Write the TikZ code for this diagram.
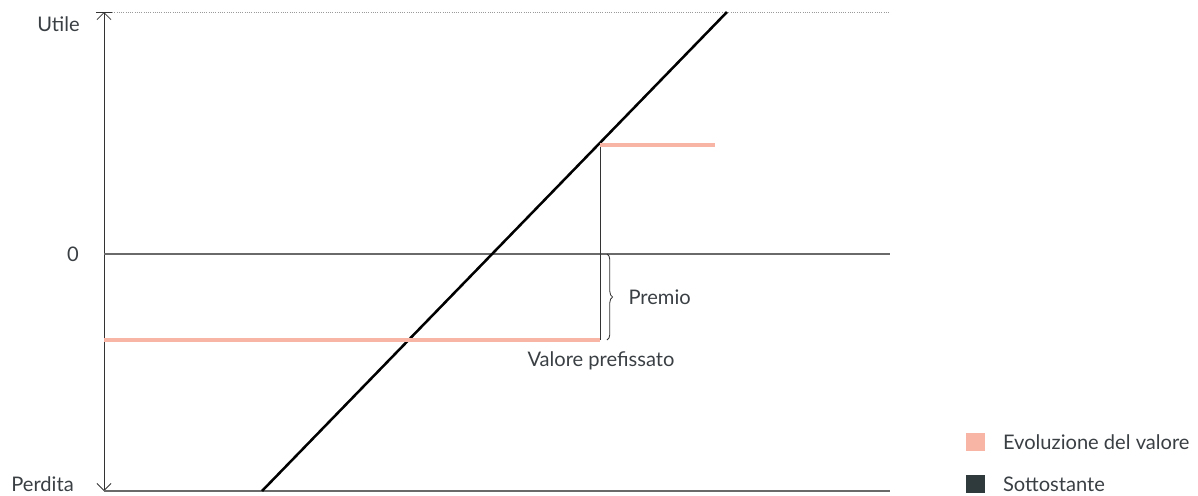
\documentclass[tikz,border=0pt]{standalone}
\usepackage{fontspec}
\setmainfont{Lato}
\usetikzlibrary{calc,arrows.meta,positioning,decorations.pathreplacing}
\definecolor{ink}{HTML}{3A3F44}
\definecolor{axis}{HTML}{333333}
\definecolor{grid}{HTML}{6A6A6A}
\definecolor{guide}{HTML}{9A9A9A}
\definecolor{salmon}{HTML}{F8B5A5}
\definecolor{under}{HTML}{2F3A3D}
\tikzset{
  lbl/.style={text=ink, font=\fontsize{14.3}{17}\selectfont, inner sep=0pt},
  level/.style={draw=salmon, line width=2.8pt},
  key/.style={minimum size=4.7mm, inner sep=0pt}
}

\begin{document}
\begin{tikzpicture}[x=0.025cm, y=-0.025cm]
\useasboundingbox (0,0) rectangle (1198,495);
% axis and guides
\coordinate (top) at (104,12);
\coordinate (bot) at (104,491);
\coordinate (zero) at (104,254);
\coordinate (zeroR) at (890,254);
\coordinate (botR) at (890,491);
\coordinate (topR) at (890,12);
\draw[axis, line width=0.6pt, {Straight Barb[length=5pt, width=10pt]}-{Straight Barb[length=5pt, width=10pt]}] (top) -- (bot);
\draw[axis, line width=0.6pt] ($(top)+(-8,0)$) -- ($(top)+(8,0)$);
\draw[guide, densely dotted, line width=0.6pt] ($(top)+(8,0)$) -- (topR);
\draw[grid, line width=0.8pt] (zero) -- (zeroR);
\draw[grid, line width=1pt] (bot) -- (botR);
\node[lbl, anchor=east] (utile) at (80,24) {Utile};
\node[lbl] (nul) at (73,254) {0};
\node[lbl, anchor=base east] (perdita) at (74,491) {Perdita};
% underlying
\coordinate (d0) at (262,491);
\coordinate (d1) at (727,12);
\draw[black, line width=1.8pt] (d0) -- (d1);
% value
\coordinate (v0) at (104,340);
\coordinate (v1) at (600,340);
\coordinate (h0) at (600,145);
\coordinate (h1) at (715,145);
\draw[axis, line width=0.6pt] (v1) -- (h0);
\draw[level] (v0) -- (v1);
\draw[level] (h0) -- (h1);
\draw[axis, line width=0.6pt, decorate, decoration={brace, amplitude=4pt}] (607,254) -- (607,340) node[midway, right=15pt, lbl] (premio) {Premio};
\node[lbl] (prefix) at (601,361) {Valore prefissato};
% legend
\node[key, fill=salmon] (k1) at (975.5,442) {};
\node[key, fill=under] (k2) at (975.5,484) {};
\node[lbl, right=12.5pt of k1.east, anchor=west] {Evoluzione del valore};
\node[lbl, right=12.5pt of k2.east, anchor=west] {Sottostante};
\end{tikzpicture}
\end{document}
